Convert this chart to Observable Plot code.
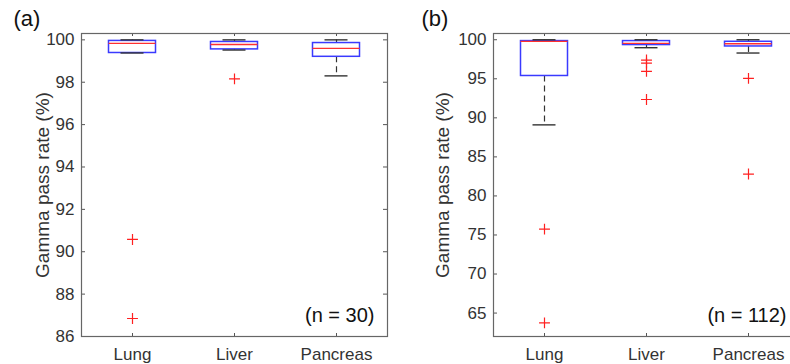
<!DOCTYPE html>
<html>
<head>
<meta charset="utf-8">
<script src="https://cdn.jsdelivr.net/npm/d3@7"></script>
<script src="https://cdn.jsdelivr.net/npm/@observablehq/plot@0.6"></script>
<style>
  html, body { margin: 0; padding: 0; background: #fff; overflow: hidden; }
  #wrap { position: relative; width: 790px; height: 364px; overflow: hidden; }
  #a { position: absolute; left: 0; top: 0; width: 400px; }
  #b { position: absolute; left: 400px; top: 0; width: 410px; }
  svg { font-family: "Liberation Sans", Arial, Helvetica, sans-serif; max-width: none !important; }
</style>
</head>
<body>
<div id="wrap"><div id="a"></div><div id="b"></div></div>
<script>
// ---- data ----
const categories = ["Lung", "Liver", "Pancreas"];

// Panel (a), n = 30
const aQ1 = [99.38, 99.55, 99.20];
const aMedian = [99.83, 99.78, 99.60];
const aQ3 = [99.95, 99.90, 99.85];
const aWhiskerLow = [99.38, 99.52, 98.30];
const aWhiskerHigh = [100.0, 100.0, 100.0];
const aOutlierCat = ["Lung", "Lung", "Liver"];
const aOutlierVal = [90.58, 86.85, 98.16];
const aTicks = [86, 88, 90, 92, 94, 96, 98, 100];
const aDomain = [86, 100.3];

// Panel (b), n = 112
const bQ1 = [95.36, 99.32, 99.14];
const bMedian = [99.78, 99.53, 99.49];
const bQ3 = [99.83, 99.83, 99.74];
const bWhiskerLow = [89.1, 98.98, 98.30];
const bWhiskerHigh = [100.0, 100.0, 100.0];
const bOutlierCat = ["Lung", "Lung", "Liver", "Liver", "Liver", "Liver", "Pancreas", "Pancreas"];
const bOutlierVal = [75.75, 63.75, 97.40, 97.00, 95.95, 92.35, 95.05, 82.80];
const bTicks = [65, 70, 75, 80, 85, 90, 95, 100];
const bDomain = [62, 100.8];

const yLabel = "Gamma pass rate (%)";

function panel({q1, med, q3, wlo, whi, oCat, oVal, ticks, domain, tag, nText, width, marginLeft, marginRight, tagX}) {
  const boxes = categories.map((c, i) => ({c, q1: q1[i], med: med[i], q3: q3[i], lo: wlo[i], hi: whi[i]}));
  const outliers = oCat.map((c, i) => ({c, v: oVal[i]}));
  const marginTop = 33, marginBottom = 28, height = 364;
  const plotW = width - marginLeft - marginRight;
  const band = plotW / categories.length;
  const boxInset = (band - 47) / 2;
  const capInset = (band - 23) / 2;
  const plotH = height - marginTop - marginBottom;
  return Plot.plot({
    width, height, marginLeft, marginRight, marginTop, marginBottom,
    style: {fontSize: "17px", color: "#333", background: "white", fontFamily: "Liberation Sans, Arial, sans-serif"},
    x: {type: "band", domain: categories, padding: 0, label: null},
    y: {domain, label: null},
    marks: [
      // axes labels (no tick lines)
      Plot.axisX({anchor: "bottom", tickSize: 0, tickPadding: 11, fontSize: 17, label: null}),
      Plot.axisY({anchor: "left", ticks, tickSize: 0, tickPadding: 7, fontSize: 17, label: null}),
      // inward ticks
      Plot.ruleY(ticks, {y: d => d, insetRight: plotW - 4, stroke: "#555"}),
      Plot.ruleY(ticks, {y: d => d, insetLeft: plotW - 4, stroke: "#555"}),
      Plot.tickX(categories, {x: d => d, stroke: "#555", insetBottom: plotH - 3}),
      Plot.tickX(categories, {x: d => d, stroke: "#555", insetTop: plotH - 3}),
      // whiskers
      Plot.ruleX(boxes, {x: "c", y1: "q3", y2: "hi", stroke: "#333", strokeDasharray: "6,4", strokeWidth: 1.2}),
      Plot.ruleX(boxes, {x: "c", y1: "q1", y2: "lo", stroke: "#333", strokeDasharray: "6,4", strokeWidth: 1.2}),
      // boxes
      Plot.barY(boxes, {x: "c", y1: "q1", y2: "q3", fill: "none", stroke: "#3a3aff", strokeWidth: 1.5, insetLeft: boxInset, insetRight: boxInset}),
      // medians
      Plot.tickY(boxes, {x: "c", y: "med", stroke: "#ff3030", strokeWidth: 1.3, insetLeft: boxInset, insetRight: boxInset}),
      // whisker caps
      Plot.tickY(boxes, {x: "c", y: "hi", stroke: "#333", strokeWidth: 1.4, insetLeft: capInset, insetRight: capInset}),
      Plot.tickY(boxes, {x: "c", y: "lo", stroke: "#333", strokeWidth: 1.4, insetLeft: capInset, insetRight: capInset}),
      // outliers
      Plot.dot(outliers, {x: "c", y: "v", symbol: "plus", r: 3.6, stroke: "#ff2020", strokeWidth: 1.2}),
      Plot.frame({stroke: "#666", strokeWidth: 1.2}),
      // y label
      Plot.text([yLabel], {frameAnchor: "left", rotate: -90, dx: -(marginLeft - 42), textAnchor: "middle", lineAnchor: "middle", text: d => d, fontSize: 19, fill: "#333"}),
      // n label
      Plot.text([nText], {frameAnchor: "bottom-right", dx: -13, dy: -21, textAnchor: "end", lineAnchor: "middle", text: d => d, fontSize: 20, fill: "#111"}),
      // panel tag
      Plot.text([tag], {frameAnchor: "top-left", dx: tagX - marginLeft, dy: 18.5 - marginTop, textAnchor: "start", lineAnchor: "middle", text: d => d, fontSize: 22, fill: "#111"})
    ]
  });
}

document.getElementById("a").append(panel({
  q1: aQ1, med: aMedian, q3: aQ3, wlo: aWhiskerLow, whi: aWhiskerHigh,
  oCat: aOutlierCat, oVal: aOutlierVal, ticks: aTicks, domain: aDomain,
  tag: "(a)", nText: "(n = 30)", width: 400, marginLeft: 81, marginRight: 13, tagX: 13
}));
document.getElementById("b").append(panel({
  q1: bQ1, med: bMedian, q3: bQ3, wlo: bWhiskerLow, whi: bWhiskerHigh,
  oCat: bOutlierCat, oVal: bOutlierVal, ticks: bTicks, domain: bDomain,
  tag: "(b)", nText: "(n = 112)", width: 410, marginLeft: 93, marginRight: 11, tagX: 21
}));
</script>
</body>
</html>
